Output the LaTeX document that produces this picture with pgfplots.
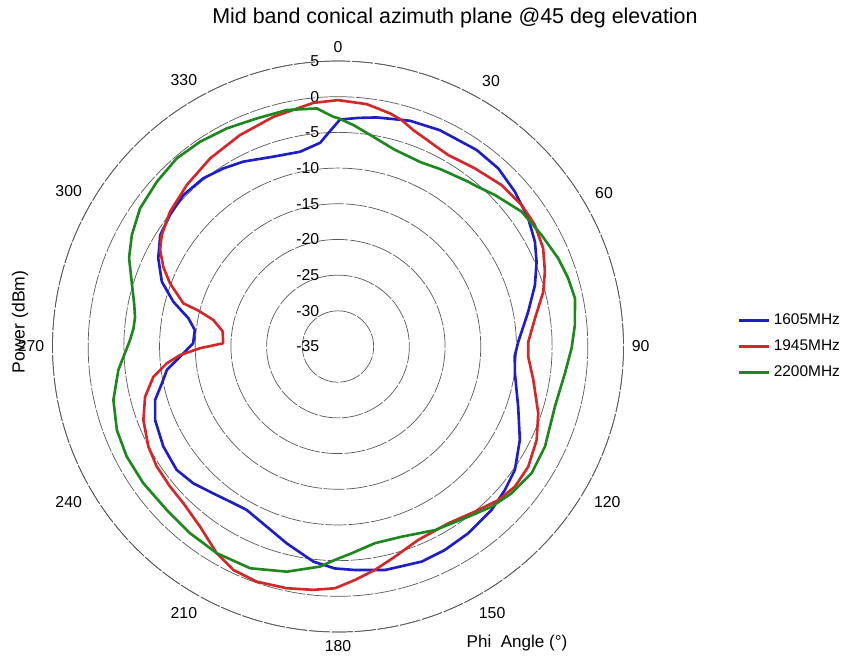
\documentclass[border=0pt]{standalone}
\usepackage{fontspec}
\setmainfont{Liberation Sans}
\usepackage{pgfplots}
\pgfplotsset{compat=1.18}
\usepgfplotslibrary{polar}
\definecolor{cblue}{RGB}{30,30,200}
\definecolor{cred}{RGB}{212,40,40}
\definecolor{cgreen}{RGB}{30,135,30}
\begin{document}
\begin{tikzpicture}
\begin{polaraxis}[
  at={(0,0)}, anchor=center,
  scale only axis, width=11.42cm, height=11.42cm,
  xmin=90, xmax=450, ymin=0, ymax=40,
  x filter/.expression={450-x},
  y filter/.expression={y+35},
  xtick={90,120,...,420},
  xticklabels={0,330,300,270,240,210,180,150,120,90,60,30},
  ytick={0,5,...,40},
  yticklabels={-35,-30,-25,-20,-15,-10,-5,0,5},
  major tick length=0pt,
  ymajorgrids=true, xmajorgrids=false,
  grid style={black!65, line width=0.4pt, dash pattern=on 12pt off 1pt},
  x axis line style={black!65, line width=0.4pt, dash pattern=on 12pt off 1pt},
  y axis line style={draw=none},
  tick label style={font=\fontsize{9}{10}\selectfont},
  xticklabel style={inner sep=4.5pt},
  yticklabel style={anchor=east, xshift=-0.25cm},
  legend style={at={(1.19,0.5)}, anchor=west, draw=none, fill=none, font=\fontsize{8.8}{10}\selectfont, row sep=3pt},
  legend cell align=left,
  every axis plot/.append style={line width=1.5pt, line join=round},
]
\addplot[cblue] coordinates {(0.5,-3.2)(5,-2.85)(9.6,-2.45)(17.7,-1.8)(25.2,-1.5)(35.2,-1.3)(42,-1.43)(48.8,-2.07)(56,-2.86)(62,-3.75)(66.9,-4.75)(72.7,-6.1)(79.6,-7.9)(88.5,-9.73)(93,-10.2)(98.6,-9.93)(108.5,-8.38)(117.2,-6.35)(124.9,-4.78)(130.7,-4.16)(136.8,-3.57)(145.1,-3.1)(152.3,-2.8)(158.7,-2.66)(168.1,-3.0)(175.7,-3.6)(180.8,-3.9)(186.5,-4.66)(194.6,-6.5)(201.6,-7.86)(209.2,-8.77)(213.7,-8.6)(220.3,-8.0)(226.6,-7.1)(232.6,-6.54)(240.2,-6.8)(248.1,-7.38)(253.7,-8.3)(258.2,-9.8)(262.2,-10.8)(266.3,-12.83)(271.3,-14.7)(276.6,-14.8)(280.7,-13.67)(285.2,-11.1)(290.2,-8.7)(296.1,-6.96)(302.1,-5.6)(308.1,-5.1)(314.4,-4.67)(321.3,-4.8)(327.2,-5.32)(332.9,-5.9)(341.2,-6.9)(349,-7.2)(355,-6.35)(356.9,-5.34)(360.5,-3.2)};
\addlegendentry{1605MHz}
\addplot[cred] coordinates {(0,-0.48)(6.75,-0.8)(12.6,-1.54)(15.7,-2.04)(19.2,-2.9)(22.7,-3.4)(26.3,-3.8)(29.9,-4.05)(33,-3.9)(37.6,-3.52)(45.4,-2.8)(52.4,-2.52)(58.3,-2.58)(64.4,-3.13)(70.1,-4.17)(75.1,-5.24)(81.9,-7.13)(88.6,-8.33)(93.1,-8.3)(99.7,-7.24)(108.4,-5.43)(115.2,-4.24)(122.3,-3.47)(128.4,-3.38)(133.8,-3.9)(140.3,-4.94)(148,-5.8)(157.5,-5.66)(164.8,-4.5)(170.6,-3.28)(175.8,-2.21)(180.7,-1.13)(185.8,-0.73)(192,-0.38)(199.1,-0.14)(205.1,-0.43)(210.4,-1.42)(217.4,-3.2)(224.6,-4.15)(230.2,-4.36)(236.5,-4.54)(242.2,-4.96)(249.3,-5.85)(255.4,-7.07)(260.7,-8.8)(264.4,-10.9)(266.9,-12.84)(269.3,-15.67)(271.6,-18.9)(277.5,-18.7)(282,-17.14)(284.4,-14.8)(285.6,-12.5)(290.6,-9.86)(294.5,-8.1)(298.5,-6.64)(302.3,-5.78)(308.7,-4.83)(316.9,-4.0)(325.8,-3.13)(335.1,-2.35)(344.3,-1.57)(354.2,-0.69)(360,-0.48)};
\addlegendentry{1945MHz}
\addplot[cgreen] coordinates {(0,-3.0)(4,-3.9)(9.55,-5.2)(16,-6.3)(24.2,-6.7)(30.1,-6.3)(38.3,-5.57)(41,-5.3)(46,-4.44)(53.7,-3.08)(61.3,-2.48)(68.2,-1.76)(73.5,-1.36)(78.5,-1.12)(84.8,-1.67)(90.4,-2.27)(96.7,-2.98)(105.5,-3.46)(115.8,-2.79)(123.2,-2.58)(130.2,-3.15)(136.2,-3.9)(142.6,-4.97)(152.1,-5.9)(161.5,-6.9)(169.4,-6.96)(176.2,-5.97)(180.8,-5.1)(184.7,-4.06)(192.8,-2.65)(201.6,-1.58)(210.4,-1.43)(218.4,-1.62)(226.3,-1.83)(234.9,-1.67)(242.5,-1.62)(249.3,-1.88)(256.6,-2.65)(263.9,-4.05)(271.8,-5.85)(275,-6.23)(278.2,-6.27)(282,-5.8)(287,-4.8)(293,-3.2)(298.4,-2.16)(304.9,-1.18)(312.3,-0.69)(319.4,-0.28)(326,-0.41)(333,-0.7)(340.4,-1.08)(347.8,-1.1)(354.9,-1.51)(358.8,-2.8)(360,-3.0)};
\addlegendentry{2200MHz}
\end{polaraxis}
\pgfresetboundingbox
\path[use as bounding box] (-6.76,-6.19) rectangle (10.10,6.93);
\node[font=\fontsize{12.2}{14}\selectfont] at (2.34,6.57) {Mid band conical azimuth plane @45 deg elevation};
\node[font=\fontsize{10}{12}\selectfont, rotate=90] at (-6.36,0.49) {Power (dBm)};
\node[font=\fontsize{9.7}{12}\selectfont] at (3.58,-5.93) {Phi\ \ Angle (\textdegree)};
\end{tikzpicture}
\end{document}
